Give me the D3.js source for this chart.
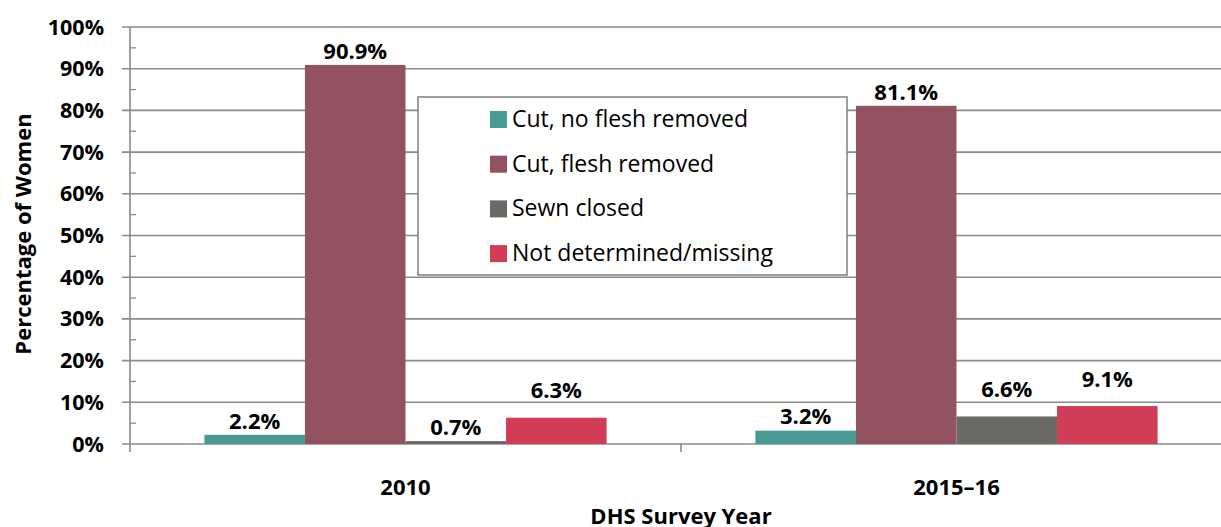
<!DOCTYPE html>
<html>
<head>
<meta charset="utf-8">
<script src="https://cdn.jsdelivr.net/npm/d3@7"></script>
<style>
html,body{margin:0;padding:0;background:#fff;}
svg{display:block;font-family:"Open Sans","Liberation Sans",sans-serif;}
</style>
</head>
<body>
<svg id="chart" width="1221" height="527"></svg>
<script>
const categories = ["2010", "2015–16"];
const seriesNames = ["Cut, no flesh removed", "Cut, flesh removed", "Sewn closed", "Not determined/missing"];
const seriesColors = ["#4A9A94", "#93525F", "#696A63", "#D13C57"];
const values2010 = [2.2, 90.9, 0.7, 6.3];
const values2015 = [3.2, 81.1, 6.6, 9.1];
const yTicks = [0, 10, 20, 30, 40, 50, 60, 70, 80, 90, 100];
const yMinorTicks = [5, 15, 25, 35, 45, 55, 65, 75, 85, 95];
const xTitle = "DHS Survey Year";
const yTitle = "Percentage of Women";

(function draw() {
const valuesByCat = [values2010, values2015];
const svg = d3.select("#chart");
const pLeft = 130, pRight = 1232, pTop = 27, pBottom = 444;

const x0 = d3.scaleBand().domain(categories).range([pLeft, pRight]).paddingInner(0).paddingOuter(0);
const x1 = d3.scaleBand().domain(seriesNames).range([0, x0.bandwidth()]).paddingInner(0).paddingOuter(0.74);
const y = d3.scaleLinear().domain([0, 100]).range([pBottom, pTop]);
const gridColor = "#8a8a8a";

svg.append("g").selectAll("line").data(yTicks).join("line")
  .attr("x1", pLeft - 8).attr("x2", 1221)
  .attr("y1", d => y(d)).attr("y2", d => y(d))
  .attr("stroke", gridColor).attr("stroke-width", 1.6);
svg.append("g").selectAll("line").data(yMinorTicks).join("line")
  .attr("x1", pLeft).attr("x2", pLeft + 6)
  .attr("y1", d => y(d)).attr("y2", d => y(d))
  .attr("stroke", gridColor).attr("stroke-width", 1.3);
svg.append("line").attr("x1", pLeft).attr("x2", pLeft).attr("y1", y(100)).attr("y2", pBottom + 8)
  .attr("stroke", gridColor).attr("stroke-width", 1.6);
svg.append("g").selectAll("line").data(categories.slice(1)).join("line")
  .attr("x1", d => x0(d)).attr("x2", d => x0(d))
  .attr("y1", pBottom).attr("y2", pBottom + 8)
  .attr("stroke", gridColor).attr("stroke-width", 1.6);

svg.append("g").selectAll("text").data(yTicks).join("text")
  .attr("x", pLeft - 26).attr("y", d => y(d)).attr("dy", "0.35em")
  .attr("text-anchor", "end").attr("font-weight", "bold").attr("font-size", 21.5)
  .text(d => d + "%");

const lg = svg.append("g");
lg.append("rect").attr("x", 418).attr("y", 97).attr("width", 429).attr("height", 178)
  .attr("fill", "#fff").attr("stroke", "#7f7f7f").attr("stroke-width", 1.5);
seriesNames.forEach((s, i) => {
  const cy = 119 + i * 44.7;
  lg.append("rect").attr("x", 490).attr("y", cy - 8).attr("width", 17).attr("height", 17).attr("fill", seriesColors[i]);
  lg.append("text").attr("x", 512).attr("y", cy).attr("dy", "0.35em").attr("font-size", 23).attr("fill", "#000").text(s);
});

const groups = svg.append("g").selectAll("g").data(categories).join("g")
  .attr("transform", d => `translate(${x0(d)},0)`);
groups.selectAll("rect").data((d, ci) => valuesByCat[ci].map((v, si) => ({v, s: seriesNames[si], c: seriesColors[si]})))
  .join("rect")
  .attr("x", d => x1(d.s)).attr("width", x1.bandwidth())
  .attr("y", d => y(d.v)).attr("height", d => pBottom - y(d.v))
  .attr("fill", d => d.c);

function labelY(v) {
  let cy = y(v) - 14;
  const hits = yTicks.some(t => t !== 0 && Math.abs(y(t) - cy) <= 10.5);
  if (hits) cy = y(v) - 27;
  return cy;
}
groups.selectAll("text").data((d, ci) => valuesByCat[ci].map((v, si) => ({v, s: seriesNames[si]})))
  .join("text")
  .attr("x", d => x1(d.s) + x1.bandwidth() / 2)
  .attr("y", d => labelY(d.v)).attr("dy", "0.35em")
  .attr("text-anchor", "middle").attr("font-weight", "bold").attr("font-size", 22)
  .text(d => d.v.toFixed(1) + "%");

svg.append("g").selectAll("text").data(categories).join("text")
  .attr("x", d => x0(d) + x0.bandwidth() / 2)
  .attr("y", 487).attr("dy", "0.35em")
  .attr("text-anchor", "middle").attr("font-weight", "bold").attr("font-size", 22)
  .text(d => d);

svg.append("text").attr("x", 681).attr("y", 524)
  .attr("text-anchor", "middle").attr("font-weight", "bold").attr("font-size", 22)
  .text(xTitle);
svg.append("text").attr("transform", "translate(23,234) rotate(-90)").attr("dy", "0.35em")
  .attr("text-anchor", "middle").attr("font-weight", "bold").attr("font-size", 22)
  .text(yTitle);
})();
</script>
</body>
</html>
